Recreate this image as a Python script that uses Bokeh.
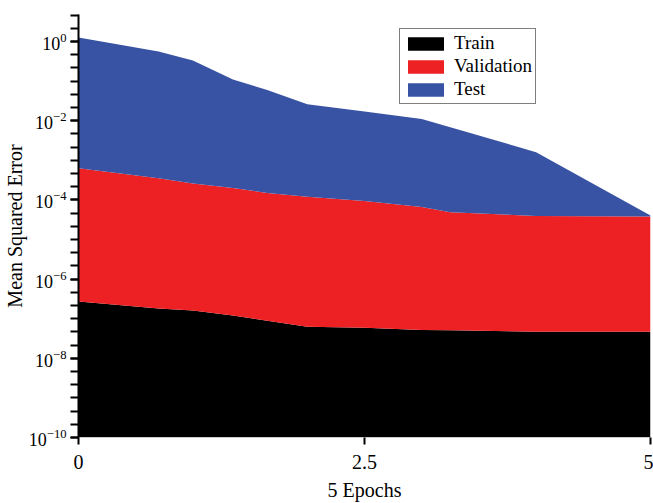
from bokeh.plotting import figure
from bokeh.models import FixedTicker, Range1d, Legend, LegendItem
from bokeh.embed import file_html
from bokeh.resources import INLINE

# Data
epochs = [0, 0.7, 1.0, 1.35, 1.65, 2.0, 2.5, 3.0, 3.25, 4.0, 5.0]
train_mse = [2.7e-7, 1.8e-7, 1.6e-7, 1.2e-7, 8.9e-8, 6.3e-8, 5.9e-8, 5.2e-8, 5.1e-8, 4.7e-8, 4.7e-8]
val_mse = [6.3e-4, 3.5e-4, 2.6e-4, 2.0e-4, 1.5e-4, 1.2e-4, 9.3e-5, 6.6e-5, 4.9e-5, 3.9e-5, 3.8e-5]
test_mse = [1.26, 0.56, 0.33, 0.11, 0.059, 0.026, 0.017, 0.011, 0.0068, 0.0016, 4.0e-5]
floor_mse = [1e-11] * len(epochs)

x_ticks = [0, 2.5, 5]
y_major = [1e-10, 1e-8, 1e-6, 1e-4, 1e-2, 1e0]
y_minor_exp = [e / 3 for e in range(-30, 3)]

FONT = "Liberation Serif"

p = figure(width=653, height=503, y_axis_type="log",
           output_backend="svg", toolbar_location=None,
           x_range=Range1d(0, 5), y_range=Range1d(1e-10, 10 ** 0.68),
           min_border_left=77, min_border_top=14, min_border_right=3,
           min_border_bottom=65)

p.outline_line_color = None
p.xgrid.visible = False
p.ygrid.visible = False
p.background_fill_color = "white"
p.border_fill_color = "white"

r_train = p.varea(x=epochs, y1=floor_mse, y2=train_mse, fill_color="#000000")
r_val = p.varea(x=epochs, y1=train_mse, y2=val_mse, fill_color="#ED2024")
r_test = p.varea(x=epochs, y1=val_mse, y2=test_mse, fill_color="#3953A4")

# X axis
xa = p.xaxis[0]
xa.ticker = FixedTicker(ticks=x_ticks)
xa.axis_label = "5 Epochs"
xa.axis_label_text_font = FONT
xa.axis_label_text_font_size = "20px"
xa.axis_label_text_font_style = "normal"
xa.axis_label_text_color = "black"
xa.axis_label_standoff = 7
xa.major_label_text_font = FONT
xa.major_label_text_font_size = "20px"
xa.major_label_text_color = "black"
xa.major_label_standoff = 10
xa.axis_line_color = "#cccccc"
xa.axis_line_width = 1
xa.major_tick_in = 0
xa.major_tick_out = 7
xa.major_tick_line_width = 2
xa.major_tick_line_color = "black"
xa.minor_tick_line_color = None

# Y axis
ya = p.yaxis[0]
ya.ticker = FixedTicker(ticks=y_major, minor_ticks=[10 ** e for e in y_minor_exp])
ya.axis_label = "Mean Squared Error"
ya.axis_label_text_font = FONT
ya.axis_label_text_font_size = "20px"
ya.axis_label_text_font_style = "normal"
ya.axis_label_text_color = "black"
ya.axis_label_standoff = 0
ya.major_label_text_font = FONT
ya.major_label_text_font_size = "18px"
ya.major_label_text_color = "black"
ya.major_label_standoff = 4
ya.axis_line_color = "black"
ya.axis_line_width = 2
ya.major_tick_in = 0
ya.major_tick_out = 8
ya.minor_tick_in = 0
ya.minor_tick_out = 8
ya.major_tick_line_width = 2
ya.minor_tick_line_width = 2
ya.major_tick_line_color = "black"
ya.minor_tick_line_color = "black"

legend = Legend(items=[
    LegendItem(label="Train", renderers=[r_train]),
    LegendItem(label="Validation", renderers=[r_val]),
    LegendItem(label="Test", renderers=[r_test]),
], location=(321, 333))
legend.label_text_font = FONT
legend.label_text_font_size = "19px"
legend.label_text_color = "black"
legend.glyph_width = 45
legend.glyph_height = 17
legend.label_height = 17
legend.label_standoff = 6
legend.spacing = 1
legend.padding = 3
legend.margin = 0
legend.border_line_color = "black"
legend.border_line_width = 1
legend.background_fill_alpha = 1.0
p.add_layout(legend, "center")

open("out.html", "w").write(file_html(p, INLINE))
